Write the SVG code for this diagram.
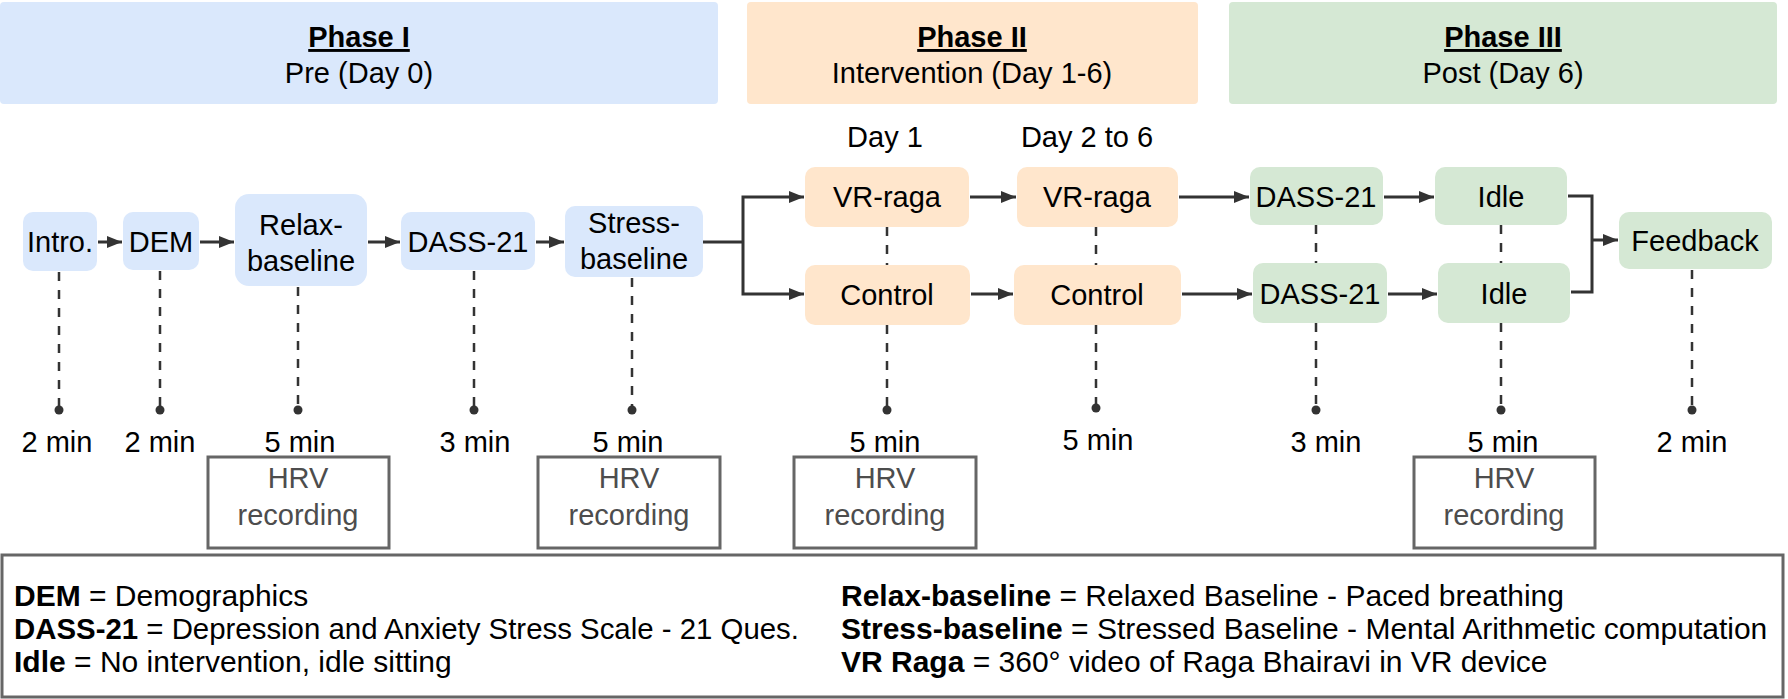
<svg xmlns="http://www.w3.org/2000/svg" width="1788" height="699" viewBox="0 0 1788 699">
<style>
text{font-family:"Liberation Sans",Arial,sans-serif;font-size:29px;fill:#000;text-anchor:middle}
.ph{font-weight:bold;text-decoration:underline}
.blue{fill:#dae8fc}
.orange{fill:#ffe6cc}
.green{fill:#d5e8d4}
.arr{stroke:#333;stroke-width:3;fill:none;marker-end:url(#ah)}
.ln{stroke:#333;stroke-width:3;fill:none}
.dash{stroke:#333;stroke-width:2.5;stroke-dasharray:9 9;fill:none}
.dot{fill:#333}
.hrv{fill:#fff;stroke:#666;stroke-width:3}
.hrvt{fill:#4d4d4d}
.lg{font-size:30px;text-anchor:start}
.b{font-weight:bold}
</style>
<defs>
<marker id="ah" viewBox="0 0 15 12" refX="15" refY="6" markerWidth="15" markerHeight="12" markerUnits="userSpaceOnUse" orient="auto">
<path d="M0,0 L15,6 L0,12 z" fill="#333"/>
</marker>
</defs>
<rect width="1788" height="699" fill="#fff"/>

<g id="phase1"><rect class="blue" x="0" y="2" width="718" height="102" rx="4"/><text class="ph" x="359" y="47">Phase I</text><text x="359" y="83">Pre (Day 0)</text></g>
<g id="phase2"><rect class="orange" x="747" y="2" width="451" height="102" rx="4"/><text class="ph" x="972" y="47">Phase II</text><text x="972" y="83">Intervention (Day 1-6)</text></g>
<g id="phase3"><rect class="green" x="1229" y="2" width="548" height="102" rx="4"/><text class="ph" x="1503" y="47">Phase III</text><text x="1503" y="83">Post (Day 6)</text></g>

<g id="day-labels"><text x="885" y="147">Day 1</text><text x="1087" y="147">Day 2 to 6</text></g>

<g id="connectors">
<line class="arr" x1="98" y1="242" x2="122" y2="242"/>
<line class="arr" x1="200" y1="242" x2="234" y2="242"/>
<line class="arr" x1="368" y1="242" x2="400" y2="242"/>
<line class="arr" x1="536" y1="242" x2="564" y2="242"/>
<polyline class="ln" points="703,242 743,242"/>
<polyline class="arr" points="743,242 743,197 804,197"/>
<polyline class="arr" points="743,242 743,294 804,294"/>
<line class="arr" x1="970" y1="197" x2="1016" y2="197"/>
<line class="arr" x1="971" y1="294" x2="1013" y2="294"/>
<line class="arr" x1="1179" y1="197" x2="1249" y2="197"/>
<line class="arr" x1="1182" y1="294" x2="1252" y2="294"/>
<line class="arr" x1="1384" y1="197" x2="1434" y2="197"/>
<line class="arr" x1="1388" y1="294" x2="1437" y2="294"/>
<polyline class="ln" points="1568,196 1592,196 1592,292 1571,292"/>
<line class="arr" x1="1592" y1="240" x2="1618" y2="240"/>
</g>

<g id="timeline">
<line class="dash" x1="59" y1="272" x2="59" y2="410"/>
<line class="dash" x1="160" y1="271" x2="160" y2="410"/>
<line class="dash" x1="298" y1="287" x2="298" y2="410"/>
<line class="dash" x1="474" y1="271" x2="474" y2="410"/>
<line class="dash" x1="632" y1="278" x2="632" y2="410"/>
<line class="dash" x1="887" y1="227" x2="887" y2="265"/>
<line class="dash" x1="887" y1="325" x2="887" y2="410"/>
<line class="dash" x1="1096" y1="227" x2="1096" y2="265"/>
<line class="dash" x1="1096" y1="325" x2="1096" y2="408"/>
<line class="dash" x1="1316" y1="225" x2="1316" y2="263"/>
<line class="dash" x1="1316" y1="323" x2="1316" y2="410"/>
<line class="dash" x1="1501" y1="225" x2="1501" y2="263"/>
<line class="dash" x1="1501" y1="323" x2="1501" y2="410"/>
<line class="dash" x1="1692" y1="270" x2="1692" y2="410"/>
<circle class="dot" cx="59" cy="410" r="4.5"/>
<circle class="dot" cx="160" cy="410" r="4.5"/>
<circle class="dot" cx="298" cy="410" r="4.5"/>
<circle class="dot" cx="474" cy="410" r="4.5"/>
<circle class="dot" cx="632" cy="410" r="4.5"/>
<circle class="dot" cx="887" cy="410" r="4.5"/>
<circle class="dot" cx="1096" cy="408" r="4.5"/>
<circle class="dot" cx="1316" cy="410" r="4.5"/>
<circle class="dot" cx="1501" cy="410" r="4.5"/>
<circle class="dot" cx="1692" cy="410" r="4.5"/>
<text x="57" y="452">2 min</text>
<text x="160" y="452">2 min</text>
<text x="300" y="452">5 min</text>
<text x="475" y="452">3 min</text>
<text x="628" y="452">5 min</text>
<text x="885" y="452">5 min</text>
<text x="1098" y="450">5 min</text>
<text x="1326" y="452">3 min</text>
<text x="1503" y="452">5 min</text>
<text x="1692" y="452">2 min</text>
</g>

<g id="intro"><rect class="blue" x="23" y="212" width="74" height="59" rx="10"/><text x="60" y="252">Intro.</text></g>
<g id="dem"><rect class="blue" x="123" y="212" width="76" height="58" rx="10"/><text x="161" y="252">DEM</text></g>
<g id="relax"><rect class="blue" x="235" y="194" width="132" height="92" rx="14"/><text x="301" y="235">Relax-</text><text x="301" y="271">baseline</text></g>
<g id="dass1"><rect class="blue" x="401" y="212" width="134" height="58" rx="10"/><text x="468" y="252">DASS-21</text></g>
<g id="stress"><rect class="blue" x="565" y="206" width="138" height="71" rx="10"/><text x="634" y="233">Stress-</text><text x="634" y="269">baseline</text></g>

<g id="vr1"><rect class="orange" x="805" y="167" width="164" height="60" rx="10"/><text x="887" y="207">VR-raga</text></g>
<g id="vr2"><rect class="orange" x="1017" y="167" width="161" height="60" rx="10"/><text x="1097" y="207">VR-raga</text></g>
<g id="ctrl1"><rect class="orange" x="805" y="265" width="165" height="60" rx="10"/><text x="887" y="305">Control</text></g>
<g id="ctrl2"><rect class="orange" x="1014" y="265" width="167" height="60" rx="10"/><text x="1097" y="305">Control</text></g>

<g id="dass2a"><rect class="green" x="1250" y="167" width="133" height="58" rx="10"/><text x="1316" y="207">DASS-21</text></g>
<g id="idle-a"><rect class="green" x="1435" y="167" width="132" height="58" rx="10"/><text x="1501" y="207">Idle</text></g>
<g id="dass2b"><rect class="green" x="1253" y="263" width="134" height="60" rx="10"/><text x="1320" y="304">DASS-21</text></g>
<g id="idle-b"><rect class="green" x="1438" y="263" width="132" height="60" rx="10"/><text x="1504" y="304">Idle</text></g>
<g id="feedback"><rect class="green" x="1619" y="212" width="153" height="57" rx="10"/><text x="1695" y="251">Feedback</text></g>

<g id="hrv1"><rect class="hrv" x="208" y="457" width="181" height="91"/><text class="hrvt" x="298" y="488">HRV</text><text class="hrvt" x="298" y="525">recording</text></g>
<g id="hrv2"><rect class="hrv" x="538" y="457" width="182" height="91"/><text class="hrvt" x="629" y="488">HRV</text><text class="hrvt" x="629" y="525">recording</text></g>
<g id="hrv3"><rect class="hrv" x="794" y="457" width="182" height="91"/><text class="hrvt" x="885" y="488">HRV</text><text class="hrvt" x="885" y="525">recording</text></g>
<g id="hrv4"><rect class="hrv" x="1414" y="457" width="181" height="91"/><text class="hrvt" x="1504" y="488">HRV</text><text class="hrvt" x="1504" y="525">recording</text></g>

<g id="legend">
<rect x="2" y="555" width="1781" height="142" fill="#fff" stroke="#666" stroke-width="3"/>
<text class="lg" x="14" y="606"><tspan class="b">DEM</tspan> = Demographics</text>
<text class="lg" x="14" y="639" style="font-size:29.4px"><tspan class="b">DASS-21</tspan> = Depression and Anxiety Stress Scale - 21 Ques.</text>
<text class="lg" x="14" y="672"><tspan class="b">Idle</tspan> = No intervention, idle sitting</text>
<text class="lg" x="841" y="606"><tspan class="b">Relax-baseline</tspan> = Relaxed Baseline - Paced breathing</text>
<text class="lg" x="841" y="639"><tspan class="b">Stress-baseline</tspan> = Stressed Baseline - Mental Arithmetic computation</text>
<text class="lg" x="841" y="672"><tspan class="b">VR Raga</tspan> = 360° video of Raga Bhairavi in VR device</text>
</g>
</svg>
